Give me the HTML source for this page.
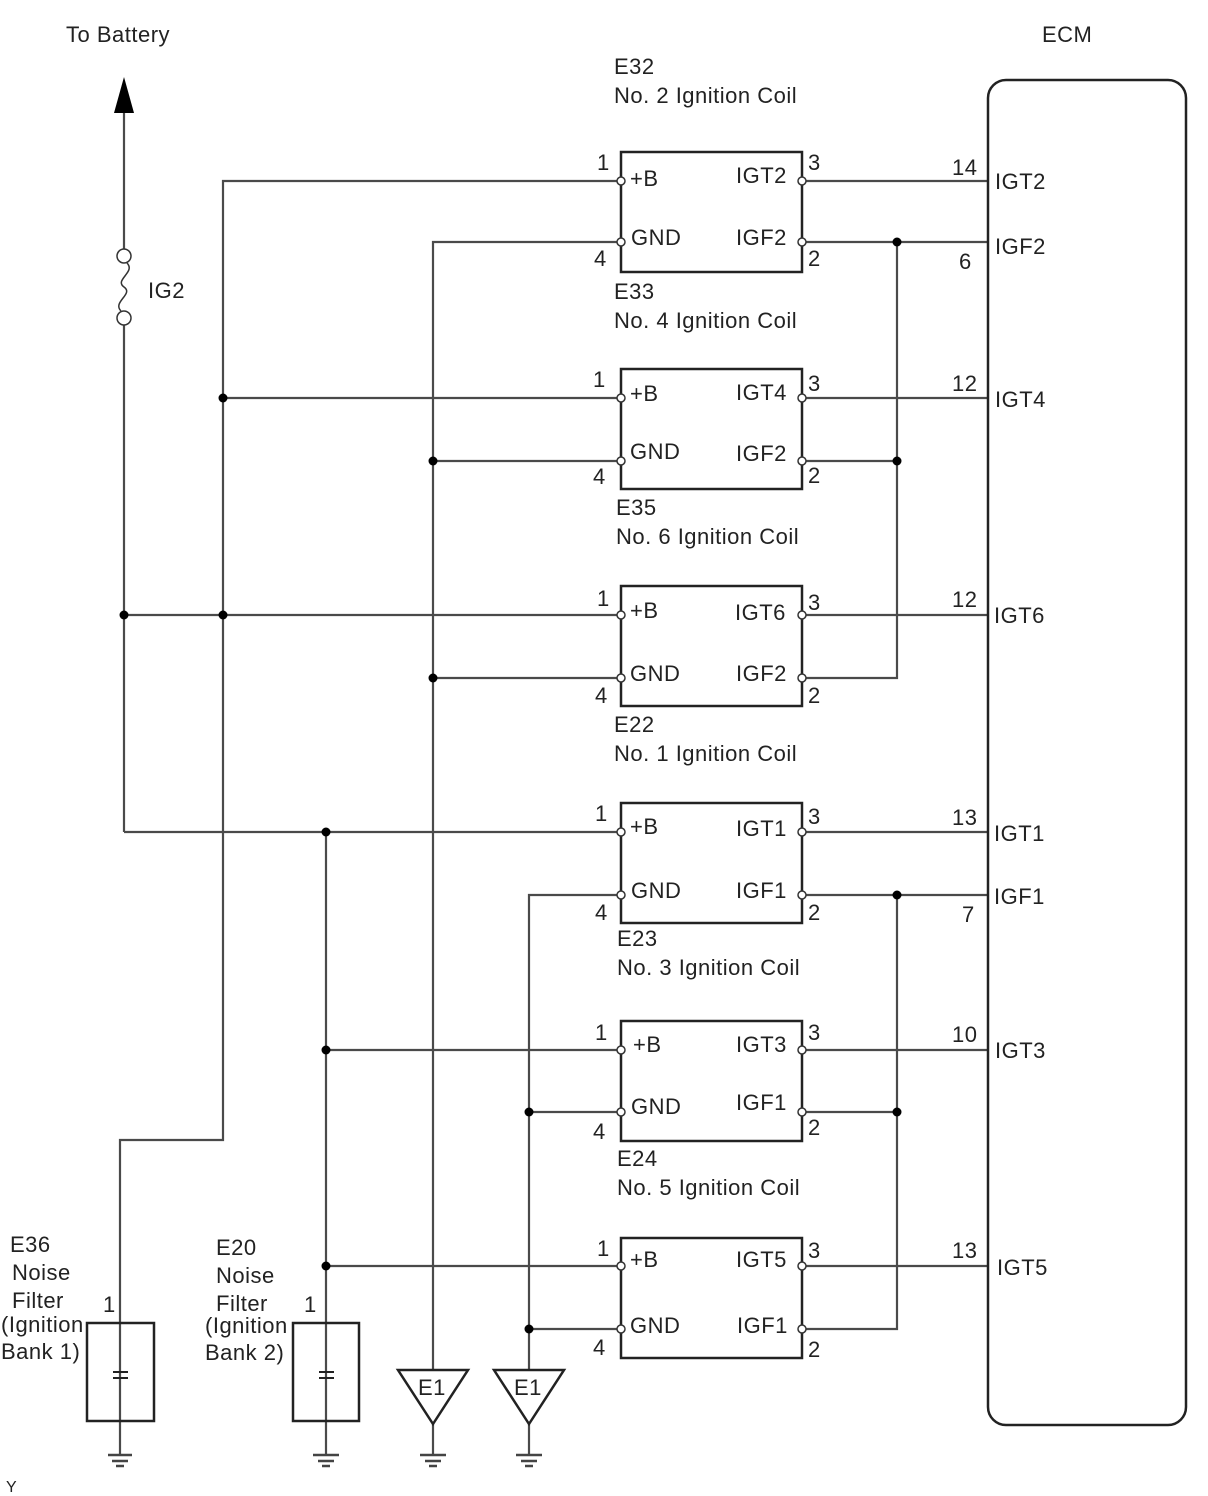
<!DOCTYPE html>
<html><head><meta charset="utf-8"><style>
html,body{margin:0;padding:0;background:#fff}
svg{display:block}
text{font-family:"Liberation Sans",sans-serif;font-size:22px;letter-spacing:0.5px;fill:#222}
</style></head><body>
<svg width="1208" height="1496" viewBox="0 0 1208 1496" xmlns="http://www.w3.org/2000/svg">
<g stroke="#4a4a4a" stroke-width="2.2" fill="none">
<line x1="124" y1="110" x2="124" y2="249"/>
<line x1="124" y1="325" x2="124" y2="832"/>
<line x1="124" y1="832" x2="621" y2="832"/>
<line x1="124" y1="615" x2="621" y2="615"/>
<polyline points="621,181 223,181 223,1140 120,1140 120,1455"/>
<line x1="223" y1="398" x2="621" y2="398"/>
<line x1="326" y1="832" x2="326" y2="1455"/>
<line x1="326" y1="1050" x2="621" y2="1050"/>
<line x1="326" y1="1266" x2="621" y2="1266"/>
<polyline points="621,242 433,242 433,1455"/>
<line x1="433" y1="461" x2="621" y2="461"/>
<line x1="433" y1="678" x2="621" y2="678"/>
<polyline points="621,895 529,895 529,1455"/>
<line x1="529" y1="1112" x2="621" y2="1112"/>
<line x1="529" y1="1329" x2="621" y2="1329"/>
<line x1="802" y1="242" x2="988" y2="242"/>
<polyline points="897,242 897,678 802,678"/>
<line x1="802" y1="461" x2="897" y2="461"/>
<line x1="802" y1="895" x2="988" y2="895"/>
<polyline points="897,895 897,1329 802,1329"/>
<line x1="802" y1="1112" x2="897" y2="1112"/>
<line x1="802" y1="181" x2="988" y2="181"/>
<line x1="802" y1="398" x2="988" y2="398"/>
<line x1="802" y1="615" x2="988" y2="615"/>
<line x1="802" y1="832" x2="988" y2="832"/>
<line x1="802" y1="1050" x2="988" y2="1050"/>
<line x1="802" y1="1266" x2="988" y2="1266"/>
</g>
<polygon points="124,77 114,113 134,113" fill="#000"/>
<g stroke="#333" stroke-width="1.5" fill="#fff">
<circle cx="124" cy="256" r="7"/>
<circle cx="124" cy="318" r="7"/>
<path d="M127,263 C136,272 114,280 124,287 C134,294 112,302 121,311" fill="none"/>
</g>
<rect x="988" y="80" width="198" height="1345" rx="18" fill="none" stroke="#222" stroke-width="2.5"/>
<g stroke="#222" stroke-width="2.5" fill="none">
<rect x="621" y="152" width="181" height="120"/>
<rect x="621" y="369" width="181" height="120"/>
<rect x="621" y="586" width="181" height="120"/>
<rect x="621" y="803" width="181" height="120"/>
<rect x="621" y="1021" width="181" height="120"/>
<rect x="621" y="1238" width="181" height="120"/>
</g>
<g stroke="#333" stroke-width="1.5" fill="#fff">
<circle cx="621" cy="181" r="4"/><circle cx="621" cy="242" r="4"/><circle cx="802" cy="181" r="4"/><circle cx="802" cy="242" r="4"/>
<circle cx="621" cy="398" r="4"/><circle cx="621" cy="461" r="4"/><circle cx="802" cy="398" r="4"/><circle cx="802" cy="461" r="4"/>
<circle cx="621" cy="615" r="4"/><circle cx="621" cy="678" r="4"/><circle cx="802" cy="615" r="4"/><circle cx="802" cy="678" r="4"/>
<circle cx="621" cy="832" r="4"/><circle cx="621" cy="895" r="4"/><circle cx="802" cy="832" r="4"/><circle cx="802" cy="895" r="4"/>
<circle cx="621" cy="1050" r="4"/><circle cx="621" cy="1112" r="4"/><circle cx="802" cy="1050" r="4"/><circle cx="802" cy="1112" r="4"/>
<circle cx="621" cy="1266" r="4"/><circle cx="621" cy="1329" r="4"/><circle cx="802" cy="1266" r="4"/><circle cx="802" cy="1329" r="4"/>
</g>
<g fill="#000">
<circle cx="897" cy="242" r="4.5"/><circle cx="897" cy="461" r="4.5"/>
<circle cx="897" cy="895" r="4.5"/><circle cx="897" cy="1112" r="4.5"/>
<circle cx="223" cy="398" r="4.5"/><circle cx="223" cy="615" r="4.5"/><circle cx="124" cy="615" r="4.5"/>
<circle cx="433" cy="461" r="4.5"/><circle cx="433" cy="678" r="4.5"/>
<circle cx="326" cy="832" r="4.5"/><circle cx="326" cy="1050" r="4.5"/><circle cx="326" cy="1266" r="4.5"/>
<circle cx="529" cy="1112" r="4.5"/><circle cx="529" cy="1329" r="4.5"/>
</g>
<g stroke="#222" stroke-width="2.5" fill="none">
<rect x="87" y="1323" width="67" height="98"/>
<rect x="293" y="1323" width="66" height="98"/>
</g>
<g stroke="#222" stroke-width="2">
<line x1="113" y1="1372" x2="128" y2="1372"/><line x1="113" y1="1378" x2="128" y2="1378"/>
<line x1="319" y1="1372" x2="334" y2="1372"/><line x1="319" y1="1378" x2="334" y2="1378"/>
</g>
<g stroke="#222" stroke-width="2.5" fill="#fff">
<polygon points="398,1370 468,1370 433,1424"/>
<polygon points="494,1370 564,1370 529,1424"/>
</g>
<g stroke="#444" stroke-width="2.5">
<line x1="108" y1="1455" x2="132" y2="1455"/><line x1="112" y1="1461" x2="128" y2="1461"/><line x1="116" y1="1466" x2="124" y2="1466"/>
<line x1="313" y1="1455" x2="339" y2="1455"/><line x1="318" y1="1461" x2="334" y2="1461"/><line x1="322" y1="1466" x2="330" y2="1466"/>
<line x1="420" y1="1455" x2="446" y2="1455"/><line x1="425" y1="1461" x2="441" y2="1461"/><line x1="429" y1="1466" x2="437" y2="1466"/>
<line x1="516" y1="1455" x2="542" y2="1455"/><line x1="521" y1="1461" x2="537" y2="1461"/><line x1="525" y1="1466" x2="533" y2="1466"/>
</g>
<text x="66" y="42">To Battery</text>
<text x="1042" y="42">ECM</text>
<text x="148" y="298">IG2</text>
<text x="418" y="1395">E1</text>
<text x="514" y="1395">E1</text>
<text x="6" y="1492" style="font-size:16px">Y</text>
<text x="10" y="1252">E36</text><text x="12" y="1280">Noise</text><text x="12" y="1308">Filter</text><text x="1" y="1332">(Ignition</text><text x="1" y="1359">Bank 1)</text>
<text x="216" y="1255">E20</text><text x="216" y="1283">Noise</text><text x="216" y="1311">Filter</text><text x="205" y="1333">(Ignition</text><text x="205" y="1360">Bank 2)</text>
<text x="103" y="1312">1</text><text x="304" y="1312">1</text>

<text x="614" y="74">E32</text><text x="614" y="103">No. 2 Ignition Coil</text>
<text x="614" y="299">E33</text><text x="614" y="328">No. 4 Ignition Coil</text>
<text x="616" y="515">E35</text><text x="616" y="544">No. 6 Ignition Coil</text>
<text x="614" y="732">E22</text><text x="614" y="761">No. 1 Ignition Coil</text>
<text x="617" y="946">E23</text><text x="617" y="975">No. 3 Ignition Coil</text>
<text x="617" y="1166">E24</text><text x="617" y="1195">No. 5 Ignition Coil</text>

<g>
<text x="597" y="170">1</text><text x="630" y="186">+B</text><text x="631" y="245">GND</text><text x="594" y="266">4</text>
<text x="736" y="183">IGT2</text><text x="736" y="245">IGF2</text><text x="808" y="170">3</text><text x="808" y="266">2</text>
<text x="593" y="387">1</text><text x="630" y="401">+B</text><text x="630" y="459">GND</text><text x="593" y="484">4</text>
<text x="736" y="400">IGT4</text><text x="736" y="461">IGF2</text><text x="808" y="391">3</text><text x="808" y="483">2</text>
<text x="597" y="606">1</text><text x="630" y="618">+B</text><text x="630" y="681">GND</text><text x="595" y="703">4</text>
<text x="735" y="620">IGT6</text><text x="736" y="681">IGF2</text><text x="808" y="610">3</text><text x="808" y="703">2</text>
<text x="595" y="821">1</text><text x="630" y="834">+B</text><text x="631" y="898">GND</text><text x="595" y="920">4</text>
<text x="736" y="836">IGT1</text><text x="736" y="898">IGF1</text><text x="808" y="824">3</text><text x="808" y="920">2</text>
<text x="595" y="1040">1</text><text x="633" y="1052">+B</text><text x="631" y="1114">GND</text><text x="593" y="1139">4</text>
<text x="736" y="1052">IGT3</text><text x="736" y="1110">IGF1</text><text x="808" y="1040">3</text><text x="808" y="1135">2</text>
<text x="597" y="1256">1</text><text x="630" y="1267">+B</text><text x="630" y="1333">GND</text><text x="593" y="1355">4</text>
<text x="736" y="1267">IGT5</text><text x="737" y="1333">IGF1</text><text x="808" y="1258">3</text><text x="808" y="1357">2</text>
</g>

<text x="952" y="175">14</text><text x="995" y="189">IGT2</text>
<text x="959" y="269">6</text><text x="995" y="254">IGF2</text>
<text x="952" y="391">12</text><text x="995" y="407">IGT4</text>
<text x="952" y="607">12</text><text x="994" y="623">IGT6</text>
<text x="952" y="825">13</text><text x="994" y="841">IGT1</text>
<text x="962" y="922">7</text><text x="994" y="904">IGF1</text>
<text x="952" y="1042">10</text><text x="995" y="1058">IGT3</text>
<text x="952" y="1258">13</text><text x="997" y="1275">IGT5</text>
</svg>
</body></html>
